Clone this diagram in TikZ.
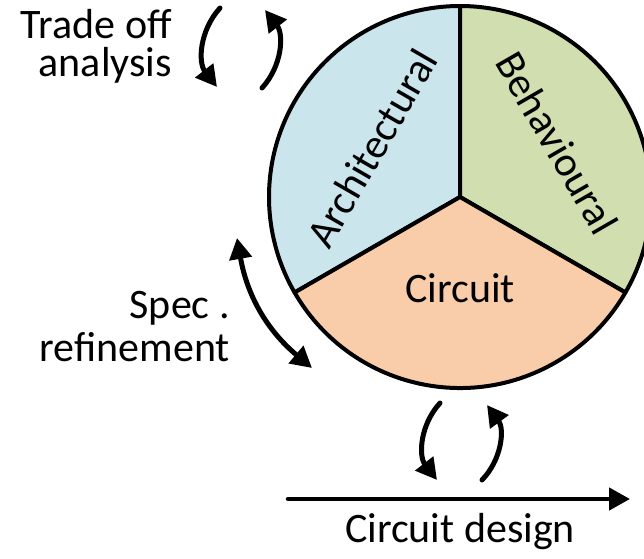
\documentclass[tikz,border=0pt]{standalone}
\usepackage{fontspec}
\setmainfont{Carlito}
\usepackage{tikz}
\usetikzlibrary{arrows.meta, positioning}
\definecolor{archblue}{HTML}{CAE5EC}
\definecolor{behgreen}{HTML}{D0DEB0}
\definecolor{circorange}{HTML}{F9CDAA}
\tikzset{>={Triangle[length=21pt,width=22pt]}}

\begin{document}
\begin{tikzpicture}[x=1pt, y=1pt,
                line cap=round, line join=round,
                sector/.style={draw=black, line width=4pt},
                cycle arrow/.style={black, line width=5pt, ->},
                caption/.style={font=\fontsize{42}{48}\selectfont, inner sep=0pt}]
    \def\R{191} % radius of the wheel
    \clip (0,0) rectangle (644,558);
    \coordinate (c) at (460,361);

    % the three views as sectors of one wheel
    \filldraw[sector, fill=archblue]   (c) -- ++(90:\R)  arc[start angle=90,  end angle=210, radius=\R] -- cycle;
    \filldraw[sector, fill=behgreen]   (c) -- ++(-30:\R) arc[start angle=-30, end angle=90,  radius=\R] -- cycle;
    \filldraw[sector, fill=circorange] (c) -- ++(210:\R) arc[start angle=210, end angle=330, radius=\R] -- cycle;

    \node[caption, rotate=60]   (arch) at (372,410) {Architectural};
    \node[caption, rotate=-60]  (beh)  at (557,415) {Behavioural};
    \node[caption, anchor=base] (circ) at (460,256) {Circuit};

    % side labels
    \node[caption, anchor=base east] (trade) at (172,519) {Trade off};
    \node[caption, anchor=base east] (analysis) at ([yshift=-38pt]trade.base east) {analysis};
    \node[caption, anchor=base east] (spec) at (230,240) {Spec .};
    \node[caption, anchor=base east] (refine) at ([yshift=-43pt]spec.base east) {refinement};
    \node[caption, anchor=base] (design) at (460,16) {Circuit design};

    % arrow end points
    \coordinate (tradeA) at (220,550); \coordinate (tradeB) at (217,471);
    \coordinate (tradeC) at (262,470); \coordinate (tradeD) at (265,548);
    \coordinate (specA)  at (237,320); \coordinate (specB)  at (312,190);
    \coordinate (circA)  at (440,155); \coordinate (circB)  at (437,78);
    \coordinate (circC)  at (482,78);  \coordinate (circD)  at (487,153);
    \coordinate (flowA)  at (288,59);  \coordinate (flowB)  at (630,59);

    % iteration loops
    \draw[cycle arrow] (tradeA) to[bend right=40] (tradeB);
    \draw[cycle arrow] (tradeC) to[bend right=40] (tradeD);
    \draw[cycle arrow, <->] (specA) to[bend right=20] (specB);
    \draw[cycle arrow] (circA) to[bend right=40] (circB);
    \draw[cycle arrow] (circC) to[bend right=40] (circD);

    % design flow
    \draw[black, line width=4.5pt, ->] (flowA) -- (flowB);
\end{tikzpicture}
\end{document}
